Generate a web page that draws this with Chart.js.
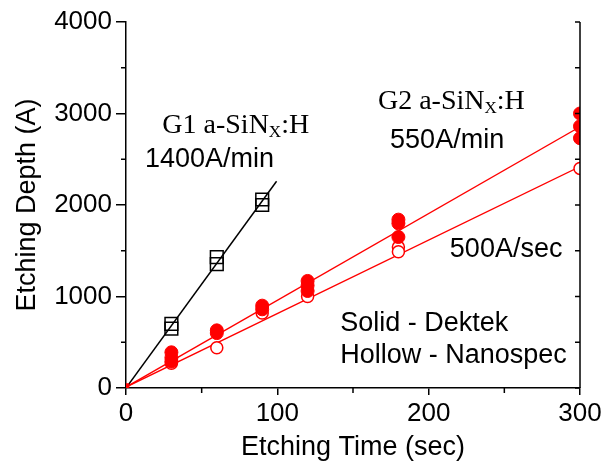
<!DOCTYPE html>
<html><head><meta charset="utf-8">
<script src="https://cdn.jsdelivr.net/npm/chart.js@4/dist/chart.umd.min.js"></script>
<style>html,body{margin:0;padding:0;background:#fff}</style>
</head><body>
<canvas id="c" width="607" height="465"></canvas>
<script>
// ---- data ----
const xTicks = [0, 100, 200, 300];
const yTicks = [0, 1000, 2000, 3000, 4000];
const xMinorTicks = [50, 150, 250];
const yMinorTicks = [500, 1500, 2500, 3500];

const g1Time  = [30, 30, 60, 60, 90, 90];
const g1Depth = [650, 700, 1355, 1430, 2000, 2060];

const dektekTime  = [30, 30, 30, 60, 60, 90, 90, 120, 120, 120, 180, 180, 180, 300, 300, 300];
const dektekDepth = [390, 330, 290, 630, 600, 900, 860, 1170, 1120, 1060, 1840, 1800, 1650, 3000, 2860, 2730];

const nanoTime  = [30, 60, 90, 120, 180, 180, 300];
const nanoDepth = [270, 440, 820, 1000, 1540, 1490, 2400];

const originTime = [0];
const originDepth = [15];

const g1FitTime = [0, 99.5];
const g1FitDepth = [0, 2260];
const dektekFitTime = [0, 300];
const dektekFitDepth = [10, 2855];
const nanoFitTime = [0, 300];
const nanoFitDepth = [10, 2420];

const annotations = [
  {parts: [['G1 a-SiN', 0], ['X', 1], [':H', 0]], t: 24, d: 2790, serif: true},
  {parts: [['1400A/min', 0]], t: 12.5, d: 2420, serif: false},
  {parts: [['G2 a-SiN', 0], ['X', 1], [':H', 0]], t: 166.5, d: 3050, serif: true},
  {parts: [['550A/min', 0]], t: 174.5, d: 2620, serif: false},
  {parts: [['500A/sec', 0]], t: 214, d: 1435, serif: false},
  {parts: [['Solid - Dektek', 0]], t: 141.5, d: 620, serif: false},
  {parts: [['Hollow - Nanospec', 0]], t: 141.5, d: 275, serif: false}
];

const toPts = (xs, ys) => xs.map((x, i) => ({x: x, y: ys[i]}));
const SANS = '"Liberation Sans", Arial, sans-serif';
const SERIF = '"Liberation Serif", "Times New Roman", serif';

const decor = {
  id: 'decor',
  afterDraw(chart) {
    const ctx = chart.ctx;
    const xs = chart.scales.x, ys = chart.scales.y;
    const a = chart.chartArea;
    ctx.save();
    ctx.strokeStyle = '#000';
    ctx.lineWidth = 1.5;
    ctx.beginPath();
    ctx.moveTo(a.right, a.top);
    ctx.lineTo(a.right, a.bottom);
    ctx.stroke();
    [...yTicks, ...yMinorTicks].forEach(v => {
      const py = ys.getPixelForValue(v);
      ctx.beginPath();
      ctx.moveTo(a.right, py);
      ctx.lineTo(a.right - 5, py);
      ctx.stroke();
    });
    yMinorTicks.forEach(v => {
      const py = ys.getPixelForValue(v);
      ctx.beginPath();
      ctx.moveTo(a.left, py);
      ctx.lineTo(a.left - 5, py);
      ctx.stroke();
    });
    xMinorTicks.forEach(v => {
      const px = xs.getPixelForValue(v);
      ctx.beginPath();
      ctx.moveTo(px, a.bottom);
      ctx.lineTo(px, a.bottom + 5);
      ctx.stroke();
    });
    ctx.fillStyle = '#000';
    ctx.textBaseline = 'alphabetic';
    ctx.textAlign = 'left';
    annotations.forEach(an => {
      let px = xs.getPixelForValue(an.t);
      const py = ys.getPixelForValue(an.d);
      an.parts.forEach(([txt, sub]) => {
        const size = an.serif ? (sub ? 17 : 28) : 27;
        ctx.font = size + 'px ' + (an.serif ? SERIF : SANS);
        ctx.fillText(txt, px, py + (sub ? 4 : 0));
        px += ctx.measureText(txt).width;
      });
    });
    ctx.restore();
  }
};

new Chart(document.getElementById('c'), {
  type: 'scatter',
  data: {
    datasets: [
      {data: toPts(g1Time, g1Depth), pointStyle: 'rect', pointRadius: 9, borderColor: '#000', backgroundColor: 'rgba(0,0,0,0)', borderWidth: 1.5, showLine: false},
      {data: toPts(dektekTime, dektekDepth), pointStyle: 'circle', pointRadius: 6.5, borderColor: '#ff0000', backgroundColor: '#ff0000', borderWidth: 1, showLine: false},
      {data: toPts(nanoTime, nanoDepth), pointStyle: 'circle', pointRadius: 6, borderColor: '#ff0000', backgroundColor: '#ffffff', borderWidth: 1.5, showLine: false},
      {data: toPts(originTime, originDepth), pointStyle: 'rect', pointRadius: 4, borderColor: '#ff0000', backgroundColor: '#ff0000', borderWidth: 1, showLine: false},
      {data: toPts(g1FitTime, g1FitDepth), showLine: true, pointRadius: 0, borderColor: '#000', borderWidth: 1.5, fill: false},
      {data: toPts(dektekFitTime, dektekFitDepth), showLine: true, pointRadius: 0, borderColor: '#ff0000', borderWidth: 1.3, fill: false},
      {data: toPts(nanoFitTime, nanoFitDepth), showLine: true, pointRadius: 0, borderColor: '#ff0000', borderWidth: 1.3, fill: false}
    ]
  },
  options: {
    responsive: false,
    animation: false,
    layout: {padding: {top: 22, right: 27, left: 0, bottom: 0}},
    plugins: {legend: {display: false}, tooltip: {enabled: false}},
    scales: {
      x: {
        type: 'linear', min: 0, max: 300,
        afterBuildTicks: s => { s.ticks = xTicks.map(v => ({value: v})); },
        afterFit: s => { s.height = 77; },
        border: {display: true, color: '#000', width: 1.5},
        grid: {display: true, drawOnChartArea: false, drawTicks: true, tickLength: 7, color: '#000', lineWidth: 1.5},
        ticks: {color: '#000', font: {family: SANS, size: 26}, padding: 3, maxRotation: 0, callback: v => String(v)},
        title: {display: true, text: 'Etching Time (sec)', color: '#000', font: {family: SANS, size: 27}, padding: {top: 0, bottom: 1}}
      },
      y: {
        type: 'linear', min: 0, max: 4000,
        afterBuildTicks: s => { s.ticks = yTicks.map(v => ({value: v})); },
        afterFit: s => { s.width = 126; },
        border: {display: true, color: '#000', width: 1.5},
        grid: {display: true, drawOnChartArea: false, drawTicks: true, tickLength: 10, color: '#000', lineWidth: 1.5},
        ticks: {color: '#000', font: {family: SANS, size: 26}, padding: 4, callback: v => String(v)},
        title: {display: true, text: 'Etching Depth (A)', color: '#000', font: {family: SANS, size: 27}, padding: {top: 11, bottom: 0}}
      }
    }
  },
  plugins: [decor]
});
</script>
</body></html>
